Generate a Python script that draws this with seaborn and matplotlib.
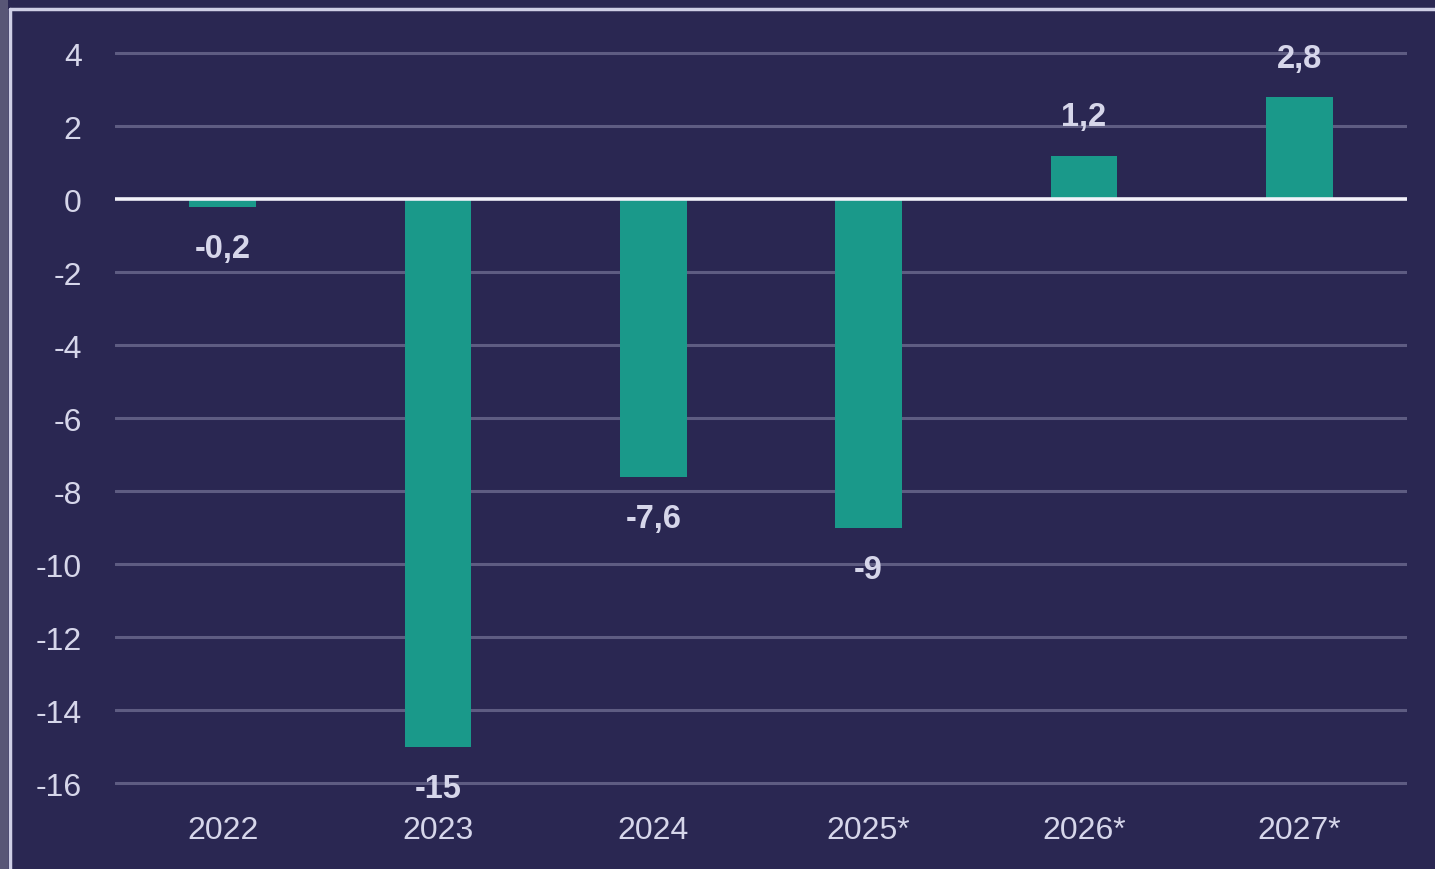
import matplotlib.pyplot as plt
import matplotlib.patches as mpatches
import matplotlib.lines as mlines
import pandas as pd
import seaborn as sns

# values
years = ["2022", "2023", "2024", "2025*", "2026*", "2027*"]
values = [-0.2, -15, -7.6, -9, 1.2, 2.8]
labels = ["-0,2", "-15", "-7,6", "-9", "1,2", "2,8"]
yticks = [4, 2, 0, -2, -4, -6, -8, -10, -12, -14, -16]

bg = "#2a2752"
bar_color = "#1a998a"
grid_color = "#5e5c82"
text_color = "#d6d6ea"

sns.set_style("dark")
plt.rcParams["font.family"] = ["Liberation Sans", "DejaVu Sans"]

df = pd.DataFrame({"year": years, "value": values})

fig = plt.figure(figsize=(14.35, 8.7), dpi=100, facecolor=bg)
ax = fig.add_axes([115 / 1435, 1 - 796.5 / 870, 1292 / 1435, (796.5 - 31.5) / 870])
ax.set_facecolor(bg)

sns.barplot(data=df, x="year", y="value", color=bar_color, width=0.31,
            saturation=1, edgecolor="none", linewidth=0, ax=ax, zorder=3)

ax.set_xlim(-0.5, 5.5)
ax.set_ylim(-16.33, 4.63)
ax.set_yticks(yticks)
ax.set_yticklabels([str(t) for t in yticks])
for t in yticks:
    if t != 0:
        ax.axhline(t, color=grid_color, lw=2.2, zorder=1)
ax.axhline(0, color="#f2f2fa", lw=2.6, zorder=4)

for i, (v, lab) in enumerate(zip(values, labels)):
    off = 28 if v > 0 else -30
    ax.annotate(lab, (i, v), xytext=(0, off), textcoords="offset points",
                ha="center", va="center", fontsize=23.5, fontweight="bold",
                color=text_color, zorder=5)

ax.tick_params(axis="both", length=0, labelsize=23, colors=text_color)
ax.tick_params(axis="y", pad=24)
ax.tick_params(axis="x", pad=14)
for lab in ax.get_yticklabels():
    lab.set_horizontalalignment("right")
ax.set_xlabel("")
ax.set_ylabel("")
for s in ax.spines.values():
    s.set_visible(False)
ax.grid(False)

# outer frame of the screenshot
fig.patches.append(mpatches.Rectangle((0, 0), 8 / 1435, 1, transform=fig.transFigure,
                                      facecolor="#585676", edgecolor="none", zorder=0))
fig.lines.append(mlines.Line2D([10 / 1435, 1], [1 - 10 / 870, 1 - 10 / 870],
                               transform=fig.transFigure, color="#cfcfe6", lw=2.5))
fig.lines.append(mlines.Line2D([10 / 1435, 10 / 1435], [0, 1 - 10 / 870],
                               transform=fig.transFigure, color="#cfcfe6", lw=2.5))

fig.savefig("out.png", dpi=100, facecolor=bg)
